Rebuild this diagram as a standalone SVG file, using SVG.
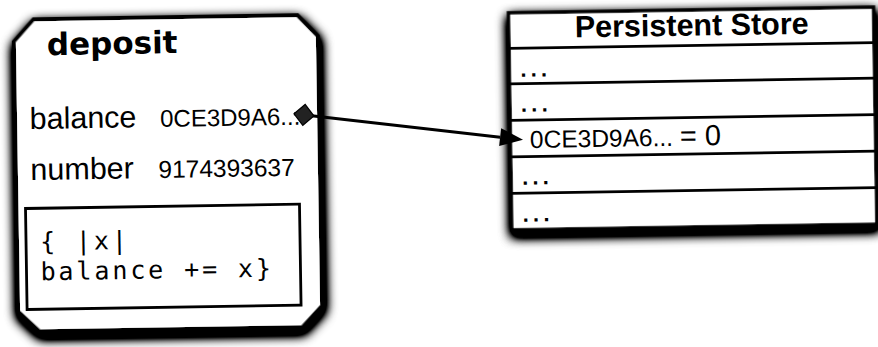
<svg xmlns="http://www.w3.org/2000/svg" width="878" height="347" viewBox="0 0 878 347">
  <defs>
    <filter id="shadow" x="-12%" y="-12%" width="124%" height="130%">
      <feGaussianBlur in="SourceAlpha" stdDeviation="6" result="blur"/>
      <feOffset in="blur" dx="1" dy="5" result="off"/>
      <feComponentTransfer in="off" result="dark">
        <feFuncA type="linear" slope="2.6"/>
      </feComponentTransfer>
      <feMerge>
        <feMergeNode in="dark"/>
        <feMergeNode in="SourceGraphic"/>
      </feMerge>
    </filter>
    <marker id="diamond" markerUnits="userSpaceOnUse" markerWidth="22" markerHeight="24" refX="0" refY="11" orient="auto" overflow="visible">
      <path d="M0,11 L10,0.5 L20,11 L10,21.5 Z" fill="#222" stroke="#000" stroke-width="1.2"/>
    </marker>
    <marker id="arrow" markerUnits="userSpaceOnUse" markerWidth="24" markerHeight="20" refX="0" refY="9" orient="auto" overflow="visible">
      <path d="M0,0 L23,9 L0,18 Z" fill="#000"/>
    </marker>
  </defs>
  <style>
    .card { fill: #fff; stroke: #000; stroke-width: 4; stroke-linejoin: miter; }
    .box { fill: #fff; stroke: #000; stroke-width: 2.8; }
    .store { fill: #fff; stroke: #000; stroke-width: 3.5; }
    .row { stroke: #000; stroke-width: 2.8; }
    .title { font-family: "DejaVu Sans", sans-serif; font-weight: bold; font-size: 31px; fill: #000; }
    .label { font-family: "Liberation Sans", Arial, sans-serif; font-size: 30.5px; fill: #000; }
    .value { font-family: "Liberation Sans", Arial, sans-serif; font-size: 24px; fill: #000; }
    .code { font-family: "DejaVu Sans Mono", monospace; font-size: 25px; letter-spacing: 2.9px; fill: #000; }
    .head { font-family: "Liberation Sans", Arial, sans-serif; font-weight: bold; font-size: 30.5px; fill: #000; }
    .dots { font-family: "Liberation Sans", Arial, sans-serif; font-weight: bold; font-size: 22px; letter-spacing: 4.2px; fill: #000; }
    .entry { font-family: "Liberation Sans", Arial, sans-serif; font-size: 24.5px; fill: #000; }
    .conn { fill: none; stroke: #000; stroke-width: 3; }
  </style>
  <g transform="rotate(-0.9 439 173)">
    <!-- object card with its slots and block -->
    <g id="deposit">
      <polygon class="card" filter="url(#shadow)" points="36,13 300,13 320,34 320,304 300,325 37,325 16,305 16,35"/>
      <text class="title" x="49" y="49">deposit</text>
      <text class="label" x="30.5" y="122.5">balance</text>
      <text class="value" x="161" y="122.5">0CE3D9A6...</text>
      <text class="label" x="30.5" y="173.5">number</text>
      <text class="value" x="158.5" y="173.5" style="font-size:24.5px">9174393637</text>
      <rect class="box" x="25" y="202" width="274" height="101"/>
      <text class="code" x="39" y="244">{ |x|</text>
      <text class="code" x="39" y="274">balance += x}</text>
    </g>
    <!-- storage table -->
    <g id="persistent-store">
      <rect class="store" filter="url(#shadow)" x="511" y="14" width="365" height="217"/>
      <line class="row" x1="511" y1="49.5" x2="876" y2="49.5"/>
      <line class="row" x1="511" y1="85" x2="876" y2="85"/>
      <line class="row" x1="511" y1="121.5" x2="876" y2="121.5"/>
      <line class="row" x1="511" y1="158" x2="876" y2="158"/>
      <line class="row" x1="511" y1="194.5" x2="876" y2="194.5"/>
      <text class="head" x="694" y="39.5" text-anchor="middle">Persistent Store</text>
      <text class="dots" x="522" y="78">...</text>
      <text class="dots" x="522" y="113">...</text>
      <text class="entry" x="530.5" y="149.5">0CE3D9A6... <tspan style="font-size:29px">= 0</tspan></text>
      <text class="dots" x="522" y="186">...</text>
      <text class="dots" x="522" y="223">...</text>
    </g>
    <!-- reference from the balance slot into the store -->
    <g id="connectors">
      <path class="conn" d="M295,111.5 L500.7,138.1" marker-start="url(#diamond)" marker-end="url(#arrow)"/>
    </g>
  </g>
</svg>
